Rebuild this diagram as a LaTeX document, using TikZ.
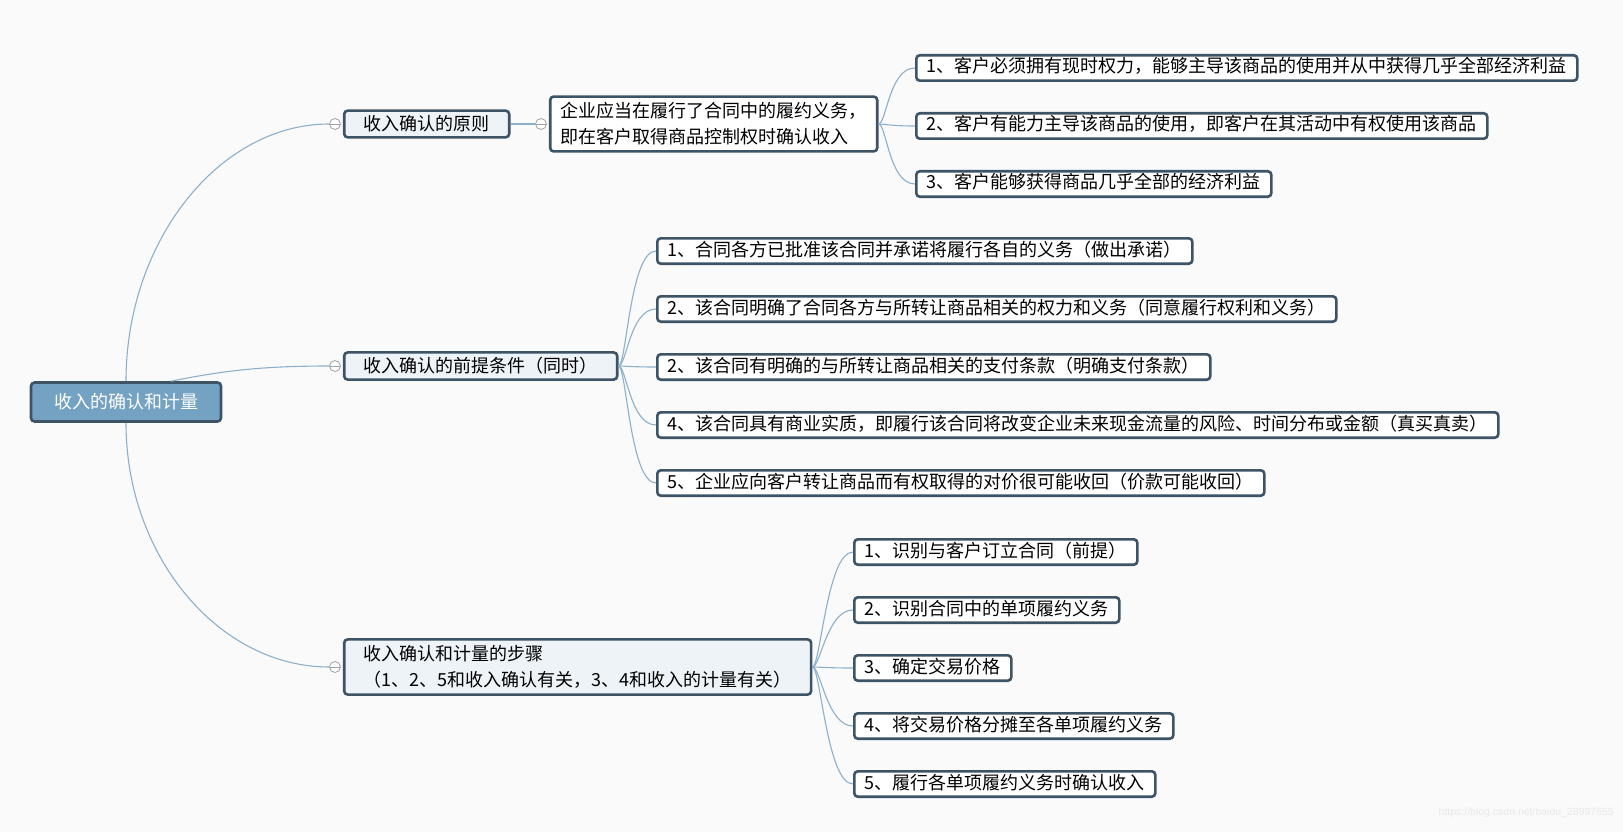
\documentclass[tikz,border=0pt]{standalone}
\usepackage{fontspec}
\setmainfont{Noto Sans CJK SC}
\newfontfamily\wmfont{Liberation Sans}
\usepackage{xcolor}
\usepackage{tikz}
\usetikzlibrary{positioning}
\definecolor{edge}{RGB}{61,83,102}
\definecolor{rootblue}{RGB}{116,162,194}
\definecolor{topicfill}{RGB}{238,243,247}
\definecolor{link}{RGB}{140,176,203}
\definecolor{foldgray}{RGB}{160,160,160}
\definecolor{paper}{RGB}{250,250,250}
\definecolor{wmgray}{RGB}{232,232,232}
\newcommand{\mapfont}{\fontsize{18pt}{26pt}\selectfont}
\tikzset{
  box/.style={rectangle, rounded corners=3.5pt, draw=edge, line width=2.6pt, font=\mapfont},
  root/.style={box, fill=rootblue, text=white, minimum width=190pt, minimum height=39pt},
  topic/.style={box, fill=topicfill, inner xsep=19.5pt, inner ysep=5pt, minimum height=26.4pt, align=left},
  leaf/.style={box, fill=white, inner xsep=10.5pt, inner ysep=4.2pt, text height=13.5pt, text depth=3.5pt, minimum height=25.4pt},
  note/.style={box, fill=white, inner xsep=10.5pt, inner ysep=6pt, align=left},
  fold/.style={circle, draw=foldgray, fill=white, line width=0.8pt, minimum size=11pt, inner sep=0pt,
    path picture={\draw[foldgray, line width=0.8pt] (path picture bounding box.west) -- (path picture bounding box.east);}},
  branch/.style={draw=link, line width=1.1pt},
  watermark/.style={font=\wmfont\fontsize{10.5pt}{12pt}\selectfont, text=wmgray, inner sep=0pt},
}
\begin{document}
\begin{tikzpicture}[x=1pt, y=1pt, node distance=30pt]
\path[use as bounding box, fill=paper] (0,0) rectangle (1623,-832);

% centre topic
\node[root] (root) at (126,-402) {收入的确认和计量};

% first level
\node[fold] (fa) at (335,-124) {};
\node[topic, right=2pt of fa] (princ) {收入确认的原则};
\node[fold] (fb) at (335,-366) {};
\node[topic, right=2pt of fb] (cond) {收入确认的前提条件（同时）};
\node[fold] (fc) at (335,-667) {};
\node[topic, right=2pt of fc, inner ysep=6pt] (steps) {收入确认和计量的步骤\\（1、2、5和收入确认有关，3、4和收入的计量有关）};

% principle
\node[fold] (fa2) at (541,-124) {};
\node[note, right=2pt of fa2] (rule) {企业应当在履行了合同中的履约义务，\\即在客户取得商品控制权时确认收入};
\node[leaf, anchor=west] (a1) at (915,-68) {1、客户必须拥有现时权力，能够主导该商品的使用并从中获得几乎全部经济利益};
\node[leaf, below=of a1.south west, anchor=north west] (a2) {2、客户有能力主导该商品的使用，即客户在其活动中有权使用该商品};
\node[leaf, below=of a2.south west, anchor=north west] (a3) {3、客户能够获得商品几乎全部的经济利益};

% conditions
\node[leaf, anchor=west] (b1) at (656,-251) {1、合同各方已批准该合同并承诺将履行各自的义务（做出承诺）};
\node[leaf, below=of b1.south west, anchor=north west] (b2) {2、该合同明确了合同各方与所转让商品相关的权力和义务（同意履行权利和义务）};
\node[leaf, below=of b2.south west, anchor=north west] (b3) {2、该合同有明确的与所转让商品相关的支付条款（明确支付条款）};
\node[leaf, below=of b3.south west, anchor=north west] (b4) {4、该合同具有商业实质，即履行该合同将改变企业未来现金流量的风险、时间分布或金额（真买真卖）};
\node[leaf, below=of b4.south west, anchor=north west] (b5) {5、企业应向客户转让商品而有权取得的对价很可能收回（价款可能收回）};

% steps
\node[leaf, anchor=west] (c1) at (853,-552) {1、识别与客户订立合同（前提）};
\node[leaf, below=of c1.south west, anchor=north west] (c2) {2、识别合同中的单项履约义务};
\node[leaf, below=of c2.south west, anchor=north west] (c3) {3、确定交易价格};
\node[leaf, below=of c3.south west, anchor=north west] (c4) {4、将交易价格分摊至各单项履约义务};
\node[leaf, below=of c4.south west, anchor=north west] (c5) {5、履行各单项履约义务时确认收入};

\node[watermark, anchor=east] (url) at (1614,-813) {https://blog.csdn.net/baidu\_28997655};

% branches
\draw[branch] (root.north) .. controls +(0,140) and +(-110,0) .. (fa.west);
\draw[branch] ([xshift=45pt]root.north) .. controls +(50,10) and +(-70,0) .. (fb.west);
\draw[branch] (root.south) .. controls +(0,-134) and +(-110,0) .. (fc.west);
\draw[branch] (princ.east) -- (fa2.west);
\draw[branch] (rule.east) .. controls +(8,0) and +(-26,0) .. (a1.west);
\draw[branch] (rule.east) .. controls +(8,0) and +(-26,0) .. (a2.west);
\draw[branch] (rule.east) .. controls +(8,0) and +(-26,0) .. (a3.west);
\draw[branch] (cond.east) .. controls +(8,0) and +(-26,0) .. (b1.west);
\draw[branch] (cond.east) .. controls +(8,0) and +(-26,0) .. (b2.west);
\draw[branch] (cond.east) .. controls +(8,0) and +(-26,0) .. (b3.west);
\draw[branch] (cond.east) .. controls +(8,0) and +(-26,0) .. (b4.west);
\draw[branch] (cond.east) .. controls +(8,0) and +(-26,0) .. (b5.west);
\draw[branch] (steps.east) .. controls +(8,0) and +(-26,0) .. (c1.west);
\draw[branch] (steps.east) .. controls +(8,0) and +(-26,0) .. (c2.west);
\draw[branch] (steps.east) .. controls +(8,0) and +(-26,0) .. (c3.west);
\draw[branch] (steps.east) .. controls +(8,0) and +(-26,0) .. (c4.west);
\draw[branch] (steps.east) .. controls +(8,0) and +(-26,0) .. (c5.west);
\end{tikzpicture}
\end{document}
